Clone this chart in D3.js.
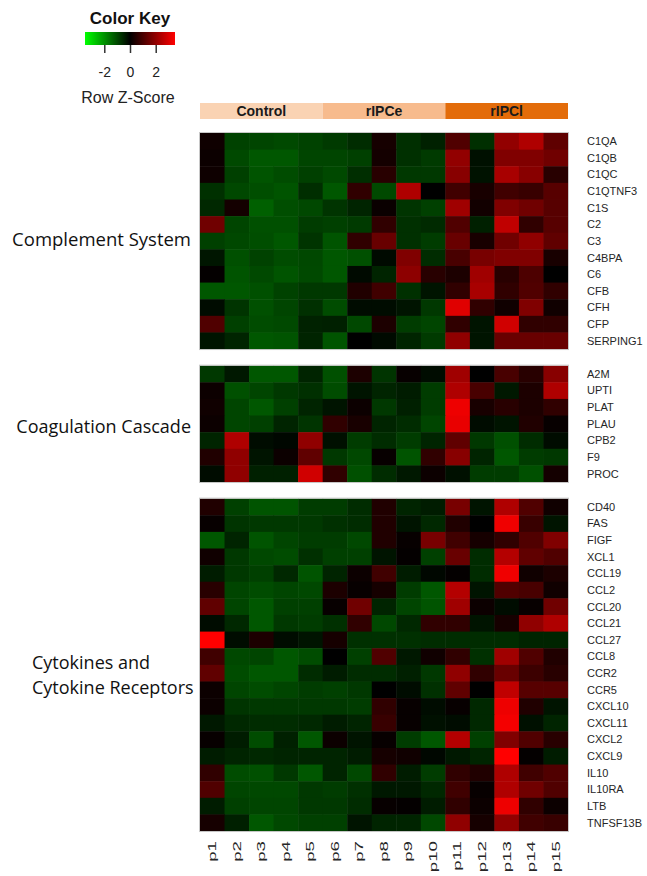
<!DOCTYPE html>
<html>
<head>
  <meta charset="utf-8">
  <title>Heatmap</title>
  <style>
    body{
      margin: 0;
      padding: 0;
      background-color: #fff;
    }
    .gene{
      font-family: "Liberation Sans", Arial, sans-serif;
      font-size: 11px;
      fill: #262626;
    }
    .group{
      font-family: "Open Sans", "Noto Sans", sans-serif;
      font-size: 18px;
      fill: #111;
    }
  </style>
</head>
<body>
<svg id="chart"></svg>

<script src="https://d3js.org/d3.v7.min.js"></script>
<script>

var samples = ["p1","p2","p3","p4","p5","p6","p7","p8","p9","p10","p11","p12","p13","p14","p15"];
var conditions = ["Control","rIPCe","rIPCl"];
var conditionSpan = [5, 5, 5];
var keyTicks = [-2, 0, 2];

var groupNames = ["Complement System", "Coagulation Cascade", "Cytokines and\nCytokine Receptors"];

var complementGenes = ["C1QA","C1QB","C1QC","C1QTNF3","C1S","C2","C3","C4BPA","C6","CFB","CFH","CFP","SERPING1"];
var complementZ = [
  [0.2,-0.9,-0.95,-1.0,-0.9,-0.8,-0.6,0.3,-0.65,-0.45,1.1,-0.65,2.0,2.4,1.3],
  [0.17,-1.0,-1.2,-1.2,-0.95,-0.95,-0.88,0.27,-0.66,-0.8,2.0,-0.22,1.76,1.76,1.54],
  [0.19,-0.88,-1.15,-1.05,-0.88,-1.0,-0.63,0.55,-0.77,-0.77,1.87,-0.25,2.3,1.87,0.55],
  [-0.66,-0.99,-1.07,-1.15,-0.63,-1.2,0.66,-1.0,2.4,0,0.88,0.33,0.88,0.77,1.2],
  [-0.55,0.27,-1.32,-1.07,-0.99,-0.71,-0.5,0.14,-0.71,-0.88,2.2,0.25,1.76,1.54,1.2],
  [1.54,-0.95,-1.1,-1.1,-0.82,-0.88,-0.8,0.66,-0.66,-0.58,1.1,-0.44,2.63,0.66,1.2],
  [-0.88,-0.99,-1.07,-1.2,-0.71,-1.15,0.66,1.43,-0.66,-0.82,1.43,0.33,1.54,1.98,1.32],
  [-0.3,-1.1,-0.9,-1.05,-0.99,-1.2,-1.1,-0.14,1.76,-0.6,0.99,1.65,1.76,1.76,0.33],
  [0.05,-1.15,-1.0,-1.15,-1.0,-1.2,-0.14,-0.5,1.93,0.55,0.38,2.2,0.55,1.05,0],
  [-1.2,-1.2,-1.1,-0.9,-0.77,-0.77,0.44,0.88,-0.66,-0.27,0.66,2.3,0.66,1.1,0.66],
  [-0.16,-0.71,-1.1,-0.95,-0.66,-1.05,-0.16,-0.16,-0.27,-0.77,3.07,0.66,0.22,1.76,0.22],
  [1.1,-0.88,-1.05,-1.0,-0.47,-0.44,-0.99,0.38,-0.82,-0.95,0.66,-0.27,2.85,0.66,0.66],
  [-0.27,-0.5,-1.2,-1.15,-0.5,-1.15,0,-0.14,-0.5,-0.8,1.98,-0.27,1.43,1.43,1.43]
];

var coagGenes = ["A2M","UPTI","PLAT","PLAU","CPB2","F9","PROC"];
var coagZ = [
  [-0.77,-0.33,-1.2,-1.2,-0.5,-1.1,0.38,-0.71,0.1,-0.16,2.2,0,0.99,0.55,1.87],
  [0.16,-1.1,-0.95,-0.77,-0.66,-1.05,-0.27,-0.5,-0.38,-0.82,2.4,0.99,-0.33,0.38,2.4],
  [0.22,-0.95,-1.2,-0.88,-0.5,-0.27,0.16,-0.77,-0.44,-0.82,3.27,0.33,0.55,0.38,0.66],
  [0.16,-0.95,-0.88,-0.5,-0.71,0.66,0.33,-0.5,-0.6,-0.95,3.2,-0.16,-0.27,0.44,0.1],
  [-0.5,2.4,-0.16,-0.1,1.98,-0.22,-0.82,-0.6,-0.82,-0.5,1.32,-0.77,-1.1,-0.6,-0.16],
  [0.44,1.98,-0.27,0.16,1.32,-0.77,-0.99,0.1,-1.15,0.66,1.87,-0.5,-1.2,-0.82,-0.77],
  [-0.16,1.98,-0.44,-0.44,2.85,0.66,-1.1,-0.6,-0.33,0.16,-0.22,-0.82,-0.82,-1.1,0.27]
];

var cytoGenes = ["CD40","FAS","FIGF","XCL1","CCL19","CCL2","CCL20","CCL21","CCL27","CCL8","CCR2","CCR5","CXCL10","CXCL11","CXCL2","CXCL9","IL10","IL10RA","LTB","TNFSF13B"];
var cytoZ = [
  [0.44,-0.88,-1.15,-1.15,-0.82,-0.82,-0.6,0.44,-0.5,-0.38,1.65,-0.27,2.4,1.1,0.22],
  [0.1,-0.71,-0.77,-0.77,-0.77,-0.66,-0.6,0.44,-0.27,-0.55,0.44,0,3.3,0.77,-0.27],
  [-1.2,-0.5,-1.15,-0.95,-0.82,-0.82,-0.99,0.44,0.1,1.65,0.88,0.3,0.66,1.1,1.76],
  [0.22,-0.77,-0.99,-1.05,-0.66,-0.88,-0.88,-0.27,0.05,-0.88,1.43,-0.6,2.47,1.32,1.1],
  [-0.38,-0.77,-0.88,-0.55,-1.15,-0.5,0.16,0.88,-0.38,-0.1,0.05,-0.6,3.3,0.22,0.38],
  [0.55,-0.95,-1.05,-0.95,-0.99,0.38,0.1,0.3,-0.82,-1.2,2.47,-0.27,1.1,0.99,0.22],
  [1.32,-0.95,-1.2,-0.88,-0.88,0.1,1.54,-0.5,-0.95,-1.15,2.2,0.16,-0.16,0.1,1.54],
  [-0.16,-0.55,-1.2,-0.77,-0.82,-0.66,0.66,-0.99,-0.55,0.66,0.66,-0.27,0.3,1.98,2.4],
  [3.5,-0.16,0.38,-0.16,-0.27,0.3,-0.66,-0.66,-0.66,-0.6,-0.6,-0.6,-0.6,-0.5,-0.5],
  [0.88,-0.99,-0.95,-1.2,-1.05,0,-0.88,1.1,-0.33,0.22,0.66,-0.66,2.2,1.1,0.44],
  [1.32,-1.05,-1.2,-1.2,-0.6,-0.38,-0.6,-0.6,-0.44,-0.77,1.98,0.66,1.43,0.82,0.55],
  [0.16,-0.95,-1.05,-0.95,-0.82,-0.88,-0.77,0,-0.16,-0.66,1.32,0,2.63,1.2,1.2],
  [0.16,-0.71,-0.77,-0.77,-0.77,-0.77,-0.82,0.66,0.1,-0.16,0.1,-0.55,3.27,0.44,-0.27],
  [-0.33,-0.55,-0.6,-0.6,-0.55,-0.38,-0.5,0.77,0.1,-0.22,-0.16,-0.55,3.35,-0.22,-0.5],
  [0.1,-0.38,-1.05,-0.44,-1.2,0.16,-0.27,0.1,-0.82,-1.2,2.47,-0.88,1.76,1.1,0.55],
  [-0.38,-0.5,-0.55,-0.5,-0.5,-0.5,-0.38,0.3,0.22,-0.1,-0.33,-0.5,3.5,0.05,-0.38],
  [0.66,-1.05,-1.1,-0.77,-1.2,-0.5,-0.99,0.66,-0.38,-0.82,0.66,0.44,2.4,0.88,1.1],
  [1.1,-0.95,-0.99,-0.99,-0.77,-0.82,-0.66,-0.33,-0.33,-0.55,0.88,0.1,2.4,1.54,1.1],
  [-0.38,-0.88,-0.95,-0.95,-0.77,-0.77,-0.6,0.1,0.05,-0.38,0.66,0.16,3.27,0.66,0.16],
  [0.3,-0.44,-1.2,-0.99,-0.88,-0.88,-0.27,-0.5,-0.5,-0.99,1.98,0.3,1.98,0.88,0.77]
];

var panels = [
  {genes: complementGenes, z: complementZ},
  {genes: coagGenes, z: coagZ},
  {genes: cytoGenes, z: cytoZ}
];

var width = 647, height = 876;
var mapLeft = 200, mapRight = 568, mapTop = 133, rowH = 16.62;

var svg = d3.select("#chart")
    .attr("width", width)
    .attr("height", height);

var x = d3.scaleBand()
    .domain(samples)
    .range([mapLeft, mapRight]);

var color = d3.scaleLinear()
    .domain([-3.5, 0, 3.5])
    .range(["#00ff00", "#000000", "#ff0000"])
    .clamp(true);

// condition band on top
var condColors = ["#fad3b3", "#f7bb8d", "#e36c0a"];
var start = 0;
conditions.forEach(function(c, i) {
  var x0 = x(samples[start]);
  var x1 = x(samples[start + conditionSpan[i] - 1]) + x.bandwidth();
  svg.append("rect")
    .attr("x", x0).attr("y", 103)
    .attr("width", x1 - x0).attr("height", 16)
    .attr("fill", condColors[i]);
  svg.append("text")
    .attr("x", (x0 + x1) / 2).attr("y", 116)
    .attr("text-anchor", "middle")
    .style("font-family", "Liberation Sans, Arial, sans-serif")
    .style("font-size", "14px")
    .style("font-weight", "bold")
    .attr("fill", "#1a1a1a")
    .text(c);
  start += conditionSpan[i];
});

// heatmap panels
var panelTop = mapTop;
panels.forEach(function(p, pi) {
  var y = d3.scaleBand()
      .domain(p.genes)
      .range([panelTop, panelTop + p.genes.length * rowH]);

  var g = svg.append("g");
  p.genes.forEach(function(gene, r) {
    g.selectAll(null)
      .data(p.z[r])
      .enter().append("rect")
      .attr("x", function(d, i) { return x(samples[i]); })
      .attr("y", y(gene))
      .attr("width", x.bandwidth() + 0.5)
      .attr("height", y.bandwidth() + 0.5)
      .attr("fill", function(d) { return color(d); });
  });

  g.append("rect")
    .attr("x", mapLeft - 0.5).attr("y", panelTop - 0.5)
    .attr("width", mapRight - mapLeft + 1)
    .attr("height", p.genes.length * rowH + 1)
    .attr("fill", "none")
    .attr("stroke", "#c8c8c8");

  // gene labels
  g.selectAll(".gene")
    .data(p.genes)
    .enter().append("text")
    .attr("class", "gene")
    .attr("x", 587)
    .attr("y", function(d) { return y(d) + y.bandwidth() / 2; })
    .attr("dy", "0.35em")
    .text(function(d) { return d; });

  // group label
  var lines = groupNames[pi].split("\n");
  var lab = svg.append("text").attr("class", "group");
  if (lines.length == 1) {
    lab.attr("x", 191).attr("text-anchor", "end")
      .attr("y", pi == 0 ? 240 : 427).attr("dy", "0.35em")
      .style("font-size", pi == 0 ? "18.5px" : "18px")
      .text(lines[0]);
  } else {
    lines.forEach(function(l, li) {
      lab.append("tspan")
        .attr("x", 32)
        .attr("y", 663 + li * 25)
        .attr("dy", "0.35em")
        .text(l);
    });
  }

  panelTop += (p.genes.length + 1) * rowH;
});

// sample labels (stretched along the text like the source figure)
svg.selectAll(".sample")
  .data(samples)
  .enter().append("text")
  .attr("class", "gene")
  .attr("transform", function(d) {
    return "translate(" + (x(d) + x.bandwidth() / 2) + ",841) rotate(-90) scale(1.7,1)";
  })
  .attr("dy", "0.35em")
  .attr("text-anchor", "end")
  .text(function(d) { return d; });

// colour key
var keyX = d3.scaleLinear().domain([-3.5, 3.5]).range([85, 175]);
var defs = svg.append("defs");
var grad = defs.append("linearGradient").attr("id", "keygrad");
grad.selectAll("stop")
  .data([-3.5, 0, 3.5])
  .enter().append("stop")
  .attr("offset", function(d, i) { return i * 50 + "%"; })
  .attr("stop-color", function(d) { return color(d); });

svg.append("text")
  .attr("x", 130).attr("y", 24)
  .attr("text-anchor", "middle")
  .style("font-family", "Liberation Sans, Arial, sans-serif")
  .style("font-size", "17px")
  .style("font-weight", "bold")
  .attr("fill", "#111")
  .text("Color Key");

svg.append("rect")
  .attr("x", keyX(-3.5)).attr("y", 32)
  .attr("width", keyX(3.5) - keyX(-3.5)).attr("height", 13)
  .attr("fill", "url(#keygrad)");

var keyAxis = svg.append("g")
  .attr("transform", "translate(0,45)")
  .call(d3.axisBottom(keyX).tickValues(keyTicks).tickSize(8).tickPadding(14)
    .tickFormat(function(d) { return String(d); }));
keyAxis.select(".domain").remove();
keyAxis.selectAll("line").attr("stroke", "#333").attr("stroke-width", 1.5);
keyAxis.selectAll("text")
  .style("font-family", "Liberation Sans, Arial, sans-serif")
  .style("font-size", "14px")
  .attr("fill", "#222");

svg.append("text")
  .attr("x", 128).attr("y", 103)
  .attr("text-anchor", "middle")
  .style("font-family", "Liberation Sans, Arial, sans-serif")
  .style("font-size", "16px")
  .attr("fill", "#222")
  .text("Row Z-Score");

</script>
</body>
</html>
